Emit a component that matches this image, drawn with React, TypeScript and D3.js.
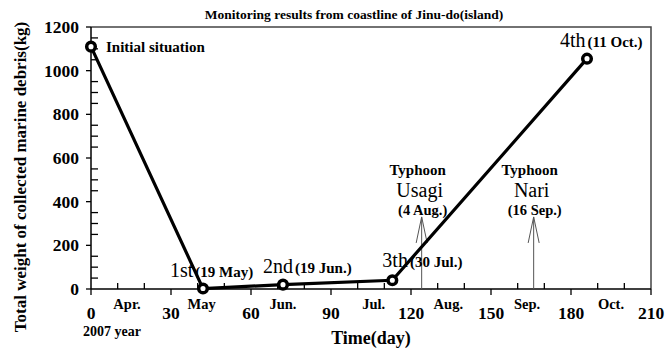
import React from 'react';
import * as d3 from 'd3';

// survey days (day 0 = 7 Apr. 2007) and collected weight
const days = [0, 42, 72, 113, 186];
const weights = [1110, 2, 20, 40, 1055];
const ordinals = ['', '1st', '2nd', '3th', '4th'];
const dateLabels = ['Initial situation', '(19 May)', '(19 Jun.)', '(30 Jul.)', '(11 Oct.)'];

const months = ['Apr.', 'May', 'Jun.', 'Jul.', 'Aug.', 'Sep.', 'Oct.'];
const monthDays = [13.5, 41.5, 72, 106, 134, 163.5, 195];

const typhoonNames = ['Usagi', 'Nari'];
const typhoonDates = ['(4 Aug.)', '(16 Sep.)'];
const typhoonDays = [124, 166];
const typhoonTop = 330;

const xTicks = [0, 30, 60, 90, 120, 150, 180, 210];
const yTicks = [0, 200, 400, 600, 800, 1000, 1200];

const W = 671;
const H = 354;
const margin = { top: 27, right: 20, bottom: 65, left: 91 };
const font = '"Liberation Serif", "Times New Roman", serif';

// label offsets, layout only
const labelDx = [15, -33, -20, -10, -27];
const labelDy = [5, -12, -12, -13, -12];

const App = () => {
  const x = d3.scaleLinear().domain([0, 210]).range([margin.left, W - margin.right]);
  const y = d3.scaleLinear().domain([0, 1200]).range([H - margin.bottom, margin.top]);

  const line = d3
    .line<number>()
    .x((_, i) => x(days[i]))
    .y(d => y(d));

  const x0 = x(0);
  const x1 = x(210);
  const y0 = y(0);
  const y1 = y(1200);

  const xMinor = d3.range(0, 211, 10).filter(d => d % 30 !== 0);
  const yMinor = d3.range(0, 1201, 50).filter(d => d % 200 !== 0);

  return (
    <svg
      width={W}
      height={H}
      style={{ position: 'absolute', left: 0, top: 0, background: '#fff' }}
      fontFamily={font}
    >
      <rect width={W} height={H} fill="#fff" />
      <text x={354} y={19} textAnchor="middle" fontWeight="bold" fontSize={13.5}>
        Monitoring results from coastline of Jinu-do(island)
      </text>

      {/* frame */}
      <path d={`M${x0},${y1}H${x1}V${y0}`} fill="none" stroke="#444" strokeWidth={1.5} />
      <line x1={x0} x2={x0} y1={y1} y2={y0} stroke="#000" strokeWidth={1.5} />
      <line x1={x0} x2={x1} y1={y0} y2={y0} stroke="#000" strokeWidth={1.5} />

      {/* y ticks */}
      {yTicks.map(t => (
        <g key={'y' + t}>
          <line x1={x0 - 5} x2={x0} y1={y(t)} y2={y(t)} stroke="#000" strokeWidth={1.3} />
          <text x={x0 - 12} y={y(t) + 6} textAnchor="end" fontWeight="bold" fontSize={17.5}>
            {t}
          </text>
        </g>
      ))}
      {yMinor.map(t => (
        <line key={'ym' + t} x1={x0} x2={x0 + 7} y1={y(t)} y2={y(t)} stroke="#000" strokeWidth={1.3} />
      ))}

      {/* x ticks */}
      {xTicks.map(t => (
        <g key={'x' + t}>
          <line x1={x(t)} x2={x(t)} y1={y0} y2={y0 + 6} stroke="#000" strokeWidth={1.3} />
          <text x={x(t)} y={y0 + 30} textAnchor="middle" fontWeight="bold" fontSize={17.5}>
            {t}
          </text>
        </g>
      ))}
      {xMinor.map(t => (
        <line key={'xm' + t} x1={x(t)} x2={x(t)} y1={y0} y2={y0 - 6} stroke="#000" strokeWidth={1.3} />
      ))}
      {months.map((m, i) => (
        <text key={m} x={x(monthDays[i])} y={y0 + 19.5} textAnchor="middle" fontWeight="bold" fontSize={14.5}>
          {m}
        </text>
      ))}
      <text x={83} y={336} fontWeight="bold" fontSize={14}>
        2007 year
      </text>
      <text x={371} y={344} textAnchor="middle" fontWeight="bold" fontSize={18}>
        Time(day)
      </text>
      <text
        transform={`translate(26,177) rotate(-90)`}
        textAnchor="middle"
        fontWeight="bold"
        fontSize={17}
      >
        Total weight of collected marine debris(kg)
      </text>

      {/* typhoons */}
      {typhoonNames.map((n, i) => {
        const tx = x(typhoonDays[i]);
        const ty = y(typhoonTop);
        return (
          <g key={n}>
            <line x1={tx} x2={tx} y1={y0} y2={ty} stroke="#555" strokeWidth={1} />
            <path d={`M${tx - 5.5},${ty + 26}L${tx},${ty}L${tx + 5.5},${ty + 26}`} fill="none" stroke="#555" strokeWidth={1} />
            <text x={tx - 4} y={ty - 42} textAnchor="middle" fontWeight="bold" fontSize={15}>
              Typhoon
            </text>
            <text x={tx - 2} y={ty - 20} textAnchor="middle" fontSize={20}>
              {n}
            </text>
            <text x={tx + 1} y={ty - 2} textAnchor="middle" fontWeight="bold" fontSize={14.5}>
              {typhoonDates[i]}
            </text>
          </g>
        );
      })}

      {/* series */}
      <path d={line(weights) || ''} fill="none" stroke="#000" strokeWidth={3.2} />
      {weights.map((w, i) => (
        <circle key={'p' + i} cx={x(days[i])} cy={y(w)} r={4.3} fill="#fff" stroke="#000" strokeWidth={3.5} />
      ))}
      {weights.map((w, i) => (
        <text key={'l' + i} x={x(days[i]) + labelDx[i]} y={y(w) + labelDy[i]}>
          {ordinals[i] && <tspan fontSize={20}>{ordinals[i]}</tspan>}
          <tspan dx={ordinals[i] ? 2 : 0} fontWeight="bold" fontSize={15}>
            {dateLabels[i]}
          </tspan>
        </text>
      ))}
    </svg>
  );
};

export default App;
